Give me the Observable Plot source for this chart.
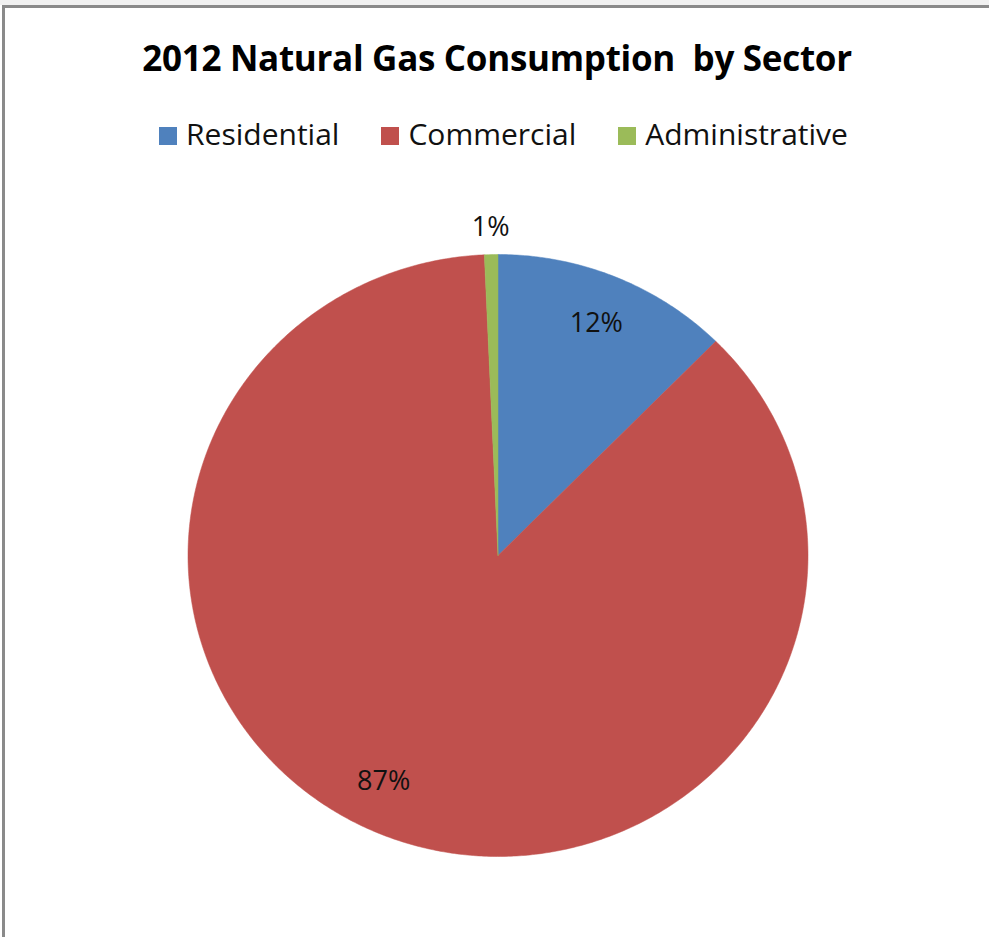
<!DOCTYPE html>
<html><head><meta charset="utf-8">
<script src="https://cdn.jsdelivr.net/npm/d3@7"></script>
<script src="https://cdn.jsdelivr.net/npm/@observablehq/plot@0.6"></script>
<style>
body{margin:0;background:#fff;font-family:"Open Sans","Liberation Sans",sans-serif;font-variant-ligatures:none}
#wrap{position:relative;width:989px;height:937px;overflow:hidden;background:#fff}
#band{position:absolute;left:0;top:0;width:989px;height:5px;background:#f1f1f1}
#frame{position:absolute;left:2px;top:5px;right:-5px;bottom:-5px;border-top:3px solid #8a8a8a;border-left:3px solid #8a8a8a}
#title{position:absolute;left:0;width:994px;top:40px;text-align:center;font-weight:bold;font-size:35px;line-height:1;white-space:pre;color:#000;letter-spacing:-0.3px}
#legend{position:absolute;left:0;width:1007px;top:119px;display:flex;justify-content:center;font-size:30px;line-height:1;color:#111}
.item{display:flex;align-items:flex-end;margin:0 21px}
.sw{width:18px;height:18px;margin-right:9px;margin-bottom:4px}
#chart{position:absolute;left:0;top:170px}
</style></head>
<body><div id="wrap"><div id="band"></div><div id="frame"></div>
<div id="title"></div><div id="legend"></div><div id="chart"></div></div>
<script>
const title = "2012 Natural Gas Consumption  by Sector";
const sectors = ["Residential", "Commercial", "Administrative"];
const shares = [12.4, 86.9, 0.7];
const colors = ["#4F81BD", "#C0504D", "#9BBB59"];

document.getElementById("title").textContent = title;
const legend = document.getElementById("legend");
sectors.forEach((s, i) => {
  const it = document.createElement("div"); it.className = "item";
  const sw = document.createElement("div"); sw.className = "sw"; sw.style.background = colors[i];
  const t = document.createElement("span"); t.textContent = s;
  it.appendChild(sw); it.appendChild(t); legend.appendChild(it);
});

const total = d3.sum(shares);
const pie = d3.pie().sort(null).value(d => d)(shares);
const outline = [];
const labels = [];
pie.forEach((p, i) => {
  const a0 = p.startAngle, a1 = p.endAngle;
  const n = Math.max(2, Math.ceil((a1 - a0) / (Math.PI / 360)));
  outline.push({sector: sectors[i], x: 0, y: 0});
  for (let k = 0; k <= n; k++) {
    const a = a0 + (a1 - a0) * k / n;
    outline.push({sector: sectors[i], x: Math.sin(a), y: Math.cos(a)});
  }
  outline.push({sector: sectors[i], x: 0, y: 0});
  const pct = shares[i] / total * 100;
  // Excel-like placement: small slices outside, large slice label nudged toward the lower-left
  const mid = (a0 + a1) / 2 + (pct > 50 ? 0.09 : 0);
  const r = pct < 5 ? 1.09 : 0.835;
  labels.push({x: r * Math.sin(mid), y: r * Math.cos(mid), text: Math.round(pct) + "%"});
});

const W = 989, H = 767;
const cx = 497.5, cy = 385, rx = 310, ry = 301;
const chart = Plot.plot({
  width: W, height: H,
  marginLeft: cx - rx, marginRight: W - (cx + rx),
  marginTop: cy - ry, marginBottom: H - (cy + ry),
  x: {domain: [-1, 1], axis: null},
  y: {domain: [-1, 1], axis: null},
  color: {domain: sectors, range: colors},
  style: {background: "transparent", overflow: "visible"},
  marks: [
    Plot.line(outline, {x: "x", y: "y", z: "sector", fill: "sector", stroke: "sector", strokeWidth: 0.5, curve: "linear"}),
    Plot.text(labels, {x: "x", y: "y", text: "text", fontSize: 27, fill: "#111", fontFamily: "'Open Sans', 'Liberation Sans', sans-serif"})
  ]
});
document.getElementById("chart").appendChild(chart);
</script></body></html>
